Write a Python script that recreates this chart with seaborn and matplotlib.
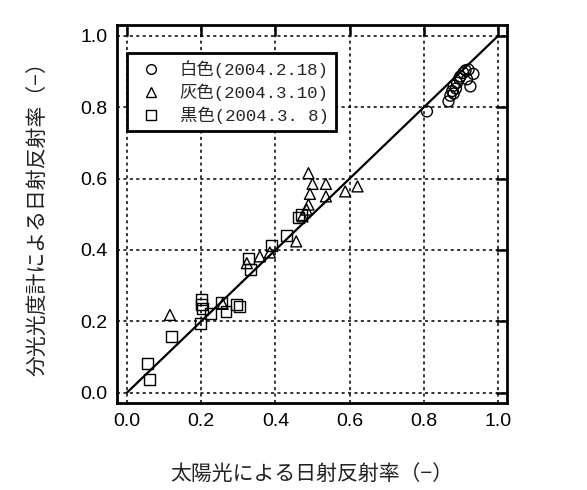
import numpy as np
import pandas as pd
import matplotlib
matplotlib.use("Agg")
import matplotlib.pyplot as plt
import seaborn as sns
from matplotlib.lines import Line2D

# ---- data ----
labels = ["白色(2004.2.18)", "灰色(2004.3.10)", "黒色(2004.3. 8)"]
markers = ["o", "^", "s"]

white_x = [0.808, 0.866, 0.871, 0.876, 0.880, 0.886, 0.889, 0.895, 0.898, 0.906, 0.912, 0.920, 0.925, 0.933, 0.916, 0.880]
white_y = [0.788, 0.816, 0.832, 0.845, 0.860, 0.852, 0.868, 0.880, 0.886, 0.896, 0.903, 0.905, 0.858, 0.893, 0.878, 0.838]

gray_x = [0.116, 0.258, 0.323, 0.358, 0.385, 0.456, 0.473, 0.484, 0.489, 0.493, 0.489, 0.500, 0.536, 0.536, 0.588, 0.621]
gray_y = [0.218, 0.249, 0.363, 0.382, 0.393, 0.424, 0.494, 0.513, 0.527, 0.557, 0.615, 0.585, 0.585, 0.550, 0.564, 0.578]

black_x = [0.062, 0.055, 0.120, 0.199, 0.201, 0.201, 0.203, 0.224, 0.255, 0.267, 0.294, 0.303, 0.327, 0.332, 0.390, 0.430, 0.462, 0.471]
black_y = [0.036, 0.083, 0.158, 0.195, 0.260, 0.246, 0.236, 0.221, 0.253, 0.228, 0.246, 0.242, 0.377, 0.345, 0.412, 0.440, 0.490, 0.500]

ticks = [0.0, 0.2, 0.4, 0.6, 0.8, 1.0]
tick_labels = ["0.0", "0.2", "0.4", "0.6", "0.8", "1.0"]
xlabel = "太陽光による日射反射率（−）"
ylabel = "分光光度計による日射反射率（−）"

df = pd.concat([
    pd.DataFrame({"x": white_x, "y": white_y, "cat": labels[0]}),
    pd.DataFrame({"x": gray_x, "y": gray_y, "cat": labels[1]}),
    pd.DataFrame({"x": black_x, "y": black_y, "cat": labels[2]}),
], ignore_index=True)

sns.set_theme(style="white")
plt.rcParams["font.family"] = ["Liberation Sans", "Noto Sans CJK JP", "DejaVu Sans"]
cjk = ["Noto Sans CJK JP", "DejaVu Sans"]
legfam = ["Liberation Mono", "Noto Sans CJK JP", "DejaVu Sans"]

fig = plt.figure(figsize=(5.87, 4.90), dpi=100)
ax = fig.add_axes([0.199, 0.178, 0.665, 0.771])

for lab, m in zip(labels, markers):
    sub = df[df["cat"] == lab]
    sns.scatterplot(data=sub, x="x", y="y", marker=m, s=62, color="black",
                    ax=ax, legend=False, zorder=3)
    coll = ax.collections[-1]
    coll.set_facecolor("none")
    coll.set_edgecolor("black")
    coll.set_linewidth(1.0)

ax.plot([0, 1], [0, 1], color="black", lw=1.6, zorder=2)

ax.set_xlim(-0.027, 1.024)
ax.set_ylim(-0.028, 1.03)
ax.set_xticks(ticks)
ax.set_xticklabels(tick_labels)
ax.set_yticks(ticks)
ax.set_yticklabels(tick_labels)
ax.tick_params(direction="in", top=True, right=True, length=8, width=1.8,
               labelsize=14, colors="black")
ax.tick_params(axis="x", pad=7)
ax.tick_params(axis="y", pad=6.5)
ax.grid(True, color="black", linestyle=(0, (2, 2.2)), linewidth=1.1)
for sp in ax.spines.values():
    sp.set_linewidth(2.0)
    sp.set_color("black")

ax.set_xlabel(xlabel, family=cjk, fontsize=15, labelpad=24, color="#222222")
ax.set_ylabel(ylabel, family=cjk, fontsize=15, labelpad=23, color="#222222")

handles = [Line2D([], [], marker=m, linestyle="none", markerfacecolor="none",
                  markeredgecolor="black", markersize=7, markeredgewidth=1.0)
           for m in markers]
leg = ax.legend(handles, labels, loc="upper left", bbox_to_anchor=(0.026, 0.926),
                borderaxespad=0, frameon=True, fancybox=False,
                prop={"family": legfam, "size": 12.5}, borderpad=0.4,
                handlelength=2.0, handletextpad=0.65, labelspacing=0.33)
leg.get_frame().set_edgecolor("black")
leg.get_frame().set_linewidth(2.0)
leg.get_frame().set_facecolor("white")
leg.get_frame().set_alpha(1)

fig.savefig("out.png", dpi=100)
